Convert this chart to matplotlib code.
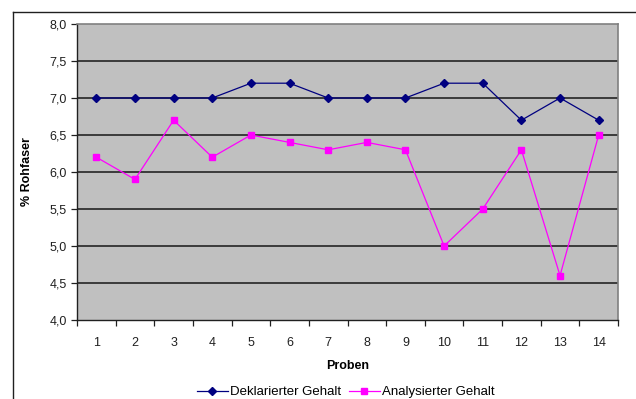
import matplotlib
matplotlib.use("Agg")
import matplotlib.pyplot as plt
from matplotlib.lines import Line2D
from matplotlib.ticker import FuncFormatter, MultipleLocator

plt.rcParams['font.family'] = ['Liberation Sans', 'DejaVu Sans']

proben = list(range(1, 15))
deklariert = [7.0, 7.0, 7.0, 7.0, 7.2, 7.2, 7.0, 7.0, 7.0, 7.2, 7.2, 6.7, 7.0, 6.7]
analysiert = [6.2, 5.9, 6.7, 6.2, 6.5, 6.4, 6.3, 6.4, 6.3, 5.0, 5.5, 6.3, 4.6, 6.5]

W, H = 636, 399
fig = plt.figure(figsize=(W / 100, H / 100), dpi=100)
ax = fig.add_axes([77 / W, 1 - 320 / H, (618 - 77) / W, (320 - 24) / H])

ax.set_facecolor('#c0c0c0')
for y in [4.5, 5.0, 5.5, 6.0, 6.5, 7.0, 7.5]:
    ax.axhline(y, color='#303030', lw=1.3, zorder=1)

l1, = ax.plot(proben, deklariert, color='#000080', lw=0.9, marker='D', ms=4.5,
              mfc='#000080', mec='#000080', zorder=3, label='Deklarierter Gehalt')
l2, = ax.plot(proben, analysiert, color='#ff00ff', lw=0.9, marker='s', ms=5,
              mfc='#ff00ff', mec='#ff00ff', zorder=3, label='Analysierter Gehalt')

ax.set_xlim(0.5, 14.5)
ax.set_ylim(4.0, 8.0)
ax.set_xticks(proben)
ax.set_xticks([i + 0.5 for i in range(0, 15)], minor=True)
ax.tick_params(axis='x', which='major', length=0, pad=12, labelsize=9, colors='#202020')
ax.tick_params(axis='x', which='minor', length=4, width=0.9, direction='out', color='#202020')
ax.yaxis.set_major_locator(MultipleLocator(0.5))
ax.yaxis.set_major_formatter(FuncFormatter(lambda v, p: f"{v:.1f}".replace('.', ',')))
ax.tick_params(axis='y', length=4, width=0.9, direction='out', labelsize=9, colors='#202020')

for side in ['top', 'right']:
    ax.spines[side].set_color('#808080')
    ax.spines[side].set_linewidth(1.2)
for side in ['left', 'bottom']:
    ax.spines[side].set_color('#202020')
    ax.spines[side].set_linewidth(1.0)

ax.set_xlabel('Proben', fontsize=9, fontweight='bold', labelpad=8)
ax.set_ylabel('% Rohfaser', fontsize=9, fontweight='bold', labelpad=12)

fig.legend(handles=[l1, l2], loc='center', bbox_to_anchor=(346 / W, 1 - 392 / H),
           ncol=2, frameon=False, fontsize=9.5, handlelength=2.3, columnspacing=0.6,
           handletextpad=0.2, borderpad=0, borderaxespad=0)

# outer chart frame (cut off at the right and bottom)
fig.add_artist(Line2D([13 / W, 1], [1 - 12 / H, 1 - 12 / H], color='#202020', lw=1.0))
fig.add_artist(Line2D([13 / W, 13 / W], [0, 1 - 12 / H], color='#202020', lw=1.0))

fig.savefig('out.png', dpi=100)
